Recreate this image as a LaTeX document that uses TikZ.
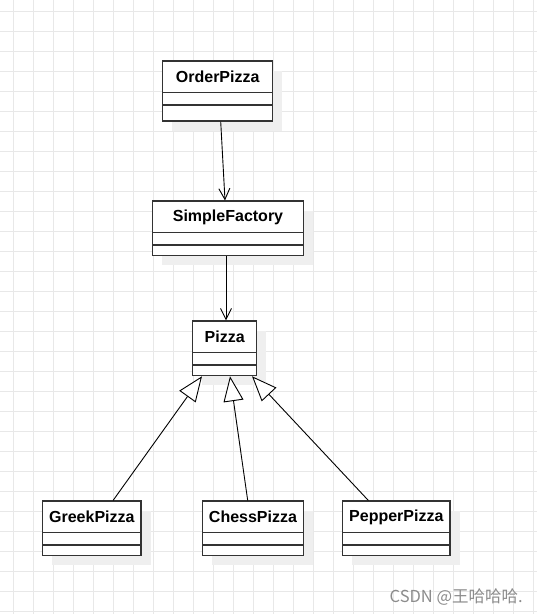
\documentclass[tikz,border=0pt]{standalone}
\usepackage{fontspec}
\setmainfont{Liberation Sans}
\newfontfamily\cjk{Noto Sans CJK SC}
\usetikzlibrary{arrows.meta,shadows}
\definecolor{gridc}{HTML}{E8E8E8}
\definecolor{shadc}{HTML}{EFEFEF}
\definecolor{boxc}{HTML}{333333}
\tikzset{
  classbox/.style={draw=boxc, line width=1.1pt, fill=white, rectangle, inner sep=0pt,
    general shadow={fill=shadc, shadow xshift=9.5pt, shadow yshift=-9.5pt}},
  classname/.style={font=\fontsize{16}{18}\selectfont\bfseries, inner sep=0pt, anchor=center},
  divider/.style={draw=boxc, line width=1.1pt},
  assoc/.style={line width=0.9pt, -{Straight Barb[length=11pt, width=11pt, line width=0.9pt]}},
  inherit/.style={line width=0.9pt, -{Triangle[length=25pt, width=20pt, fill=white, line width=0.9pt]}},
  watermark/.style={font=\cjk\fontsize{16.5}{18}\selectfont, text=black!45, inner sep=0pt, anchor=east}
}
\begin{document}
\begin{tikzpicture}[x=1pt, y=-1pt]
\useasboundingbox (0,0) rectangle (537,614);
\fill[white] (0,0) rectangle (537,614);
% grid
\foreach \i in {0,...,26} { \draw[gridc, line width=0.9pt] ({13.3+20*\i},0) -- ({13.3+20*\i},614); }
\foreach \j in {0,...,30} { \draw[gridc, line width=0.9pt] (0,{11.5+20*\j}) -- (537,{11.5+20*\j}); }

% classes
\node[classbox, minimum width=110pt, minimum height=60pt] (order) at (217.7,91) {};
\node[classname] (ordert) at (217.7,77) {OrderPizza};
\draw[divider] (162.7,92.3) -- (272.7,92.3) (162.7,105) -- (272.7,105);

\node[classbox, minimum width=150.6pt, minimum height=54.7pt] (factory) at (228,228.35) {};
\node[classname] (factoryt) at (228,217) {SimpleFactory};
\draw[divider] (152.7,232.3) -- (303.3,232.3) (152.7,245) -- (303.3,245);

\node[classbox, minimum width=64pt, minimum height=54.7pt] (pizza) at (224.7,348.35) {};
\node[classname] (pizzat) at (224.7,337) {Pizza};
\draw[divider] (192.7,352.3) -- (256.7,352.3) (192.7,365) -- (256.7,365);

\node[classbox, minimum width=98.3pt, minimum height=54.7pt] (greek) at (91.85,528.35) {};
\node[classname] (greekt) at (91.85,517) {GreekPizza};
\draw[divider] (42.7,532.3) -- (141,532.3) (42.7,545) -- (141,545);

\node[classbox, minimum width=100.6pt, minimum height=54.7pt] (chess) at (253,528.35) {};
\node[classname] (chesst) at (253,517) {ChessPizza};
\draw[divider] (202.7,532.3) -- (303.3,532.3) (202.7,545) -- (303.3,545);

\node[classbox, minimum width=107.3pt, minimum height=54.7pt] (pepper) at (396.35,528.35) {};
\node[classname] (peppert) at (396.35,517) {PepperPizza};
\draw[divider] (342.7,532.3) -- (450,532.3) (342.7,545) -- (450,545);

% connectors
\draw[assoc] ([xshift=3pt]order.south) -- ([xshift=-3pt]factory.north);
\draw[assoc] ([xshift=-2pt]factory.south) -- ([xshift=1.3pt]pizza.north);
\draw[inherit] ([xshift=21.2pt]greek.north) -- ([xshift=-22.7pt]pizza.south);
\draw[inherit] ([xshift=-5.3pt]chess.north) -- ([xshift=5.3pt]pizza.south);
\draw[inherit] ([xshift=-28pt]pepper.north) -- ([xshift=27.3pt]pizza.south);

% watermark
\node[watermark] (wm) at (523,597.5) {CSDN @王哈哈哈.};
\end{tikzpicture}
\end{document}
